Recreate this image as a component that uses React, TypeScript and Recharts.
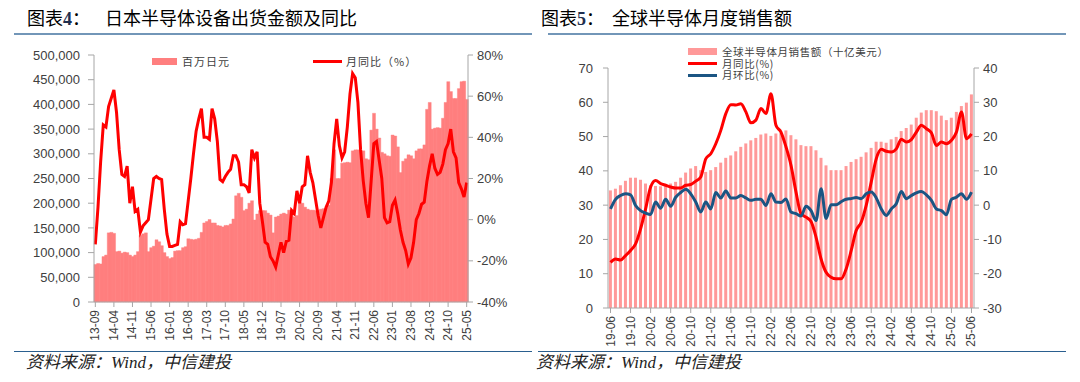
import React from 'react'
import { ComposedChart, Bar, Line, XAxis, YAxis } from 'recharts'

// month labels like 13-09
function monthLabels(startYear: number, startMonth: number, n: number): string[] {
  const out: string[] = []
  for (let i = 0; i < n; i++) {
    const t = startMonth - 1 + i
    const yy = startYear + Math.floor(t / 12)
    const mm = (t % 12) + 1
    out.push(`${String(yy).padStart(2, '0')}-${String(mm).padStart(2, '0')}`)
  }
  return out
}

// 图表4: 13-09 .. 25-05
const JP_MONTHS = monthLabels(13, 9, 141)

// 百万日元
const JP_SHIPMENTS = [
  76000, 78000, 77000, 92000, 95000, 140000, 141000, 139000, 102000, 103000,
  99000, 101000, 100000, 95000, 92000, 95000, 102000, 135000, 138000, 140000,
  102000, 110000, 113000, 126000, 122000, 114000, 100000, 92000, 88000, 90000,
  103000, 104000, 104000, 110000, 112000, 128000, 127000, 126000, 127000, 129000,
  141000, 160000, 163000, 167000, 160000, 160000, 155000, 154000, 152000, 155000,
  155000, 158000, 168000, 215000, 220000, 212000, 185000, 188000, 200000, 205000,
  166000, 178000, 185000, 185000, 185000, 180000, 176000, 140000, 172000, 174000,
  178000, 180000, 178000, 186000, 186000, 172000, 175000, 202000, 200000, 192000,
  188000, 186000, 186000, 185000, 186000, 188000, 189000, 190000, 196000, 250000,
  308000, 250000, 250000, 281000, 282000, 283000, 282000, 306000, 308000, 308000,
  306000, 306000, 290000, 288000, 348000, 382000, 350000, 332000, 303000, 300000,
  296000, 295000, 338000, 336000, 314000, 262000, 285000, 290000, 298000, 296000,
  290000, 306000, 310000, 310000, 318000, 390000, 404000, 350000, 352000, 353000,
  352000, 372000, 404000, 446000, 426000, 412000, 412000, 432000, 446000, 447000,
  410000,
]

// 月同比 (%)
const JP_YOY = [
  -12, 6, 28, 46, 45, 55, 59, 63, 52, 34,
  22, 21, 26, 8, 16, 4, 5, -6, -3, -1.5,
  0, 10, 20, 21, 20, 19.5, 5, -7, -13, -13,
  -12.5, -12, -1, -2.5, -2, 9, 20, 32, 43, 49,
  54, 40, 40, 39, 54, 49, 38, 19.5, 18.5, 21,
  23, 24.5, 31, 31, 28, 17, 17, 16, 13, 34,
  30, 33, 8, -1, -11, -12, -18, -20, -23, -17,
  -11, -16, -10.5, -10, 4.5, 3, 14, 8, 16, 17,
  31, 23, 18, 10, 2, -4, 1, 6, 9, 18,
  37, 49, 36, 30, 33, 45, 61, 71, 69, 57,
  34, 19, 8, 1, 19, 37, 38, 29, 20, 1,
  -1.5, -1, 7, 9.5, 3, -5, -11, -15, -21.5, -18.5,
  -11, 0, 3, 7.5, 8.5, 18.5, 26, 32, 25, 22,
  23, 27, 34, 37, 44, 33, 30, 18, 15, 11,
  18,
]

const JP_LEFT_TICKS = [0, 50000, 100000, 150000, 200000, 250000, 300000, 350000, 400000, 450000, 500000]
const JP_RIGHT_TICKS = [-40, -20, 0, 20, 40, 60, 80]

// 图表5: 19-06 .. 25-06
const WS_MONTHS = monthLabels(19, 6, 73)

// 全球半导体月销售额（十亿美元）
const WS_SALES = [
  34.3, 34.8, 35.8, 37.1, 38, 38, 37.4, 36.3, 35.8, 35.6,
  35.5, 35.6, 36.3, 36.8, 38, 39.5, 40.7, 41.4, 40.2, 39.7,
  40.2, 41.1, 42.4, 43.8, 44.5, 45.7, 47, 48, 48.9, 49.6,
  50.6, 50.9, 50.2, 50.9, 51, 51.8, 50.4, 49.2, 47.5, 47.2,
  47.2, 46, 43.8, 41.6, 40.2, 40.2, 40.2, 41.4, 42.6, 43.4,
  44.1, 45.4, 46.7, 48.5, 48.5, 48.2, 49.2, 49.9, 51.6, 52.5,
  53.5, 55.5, 57, 57.7, 57.7, 57.4, 56.1, 54.8, 55.5, 57.2,
  58.9, 59.9, 62.3,
]

// 月同比(%)
const WS_YOY = [
  -16.7, -15.7, -16, -14.7, -13.2, -11.3, -6.9, -1.1, 5.3, 7.2,
  6.3, 5.8, 5.3, 5, 5, 5.8, 6, 7, 8.2, 13.5,
  15, 17.9, 21.8, 26.7, 29.3, 29.2, 29.6, 27.2, 24, 24.8,
  28.2, 26.7, 32.5, 23.3, 21.3, 17, 11.6, 3.8, -2.5, -3.5,
  -4.8, -9.4, -15.7, -19.6, -21, -21.5, -21.5, -18.6, -13.3, -7.4,
  -5, -0.1, 6.7, 13.5, 16.3, 15.7, 15.5, 16.4, 19.2, 18.4,
  19.1, 21.3, 23.3, 22.3, 21.1, 17.4, 18.4, 17.9, 18.9, 21.3,
  27.2, 19.4, 20.8,
]

// 月环比(%)
const WS_MOM = [
  -1.1, 1.7, 2.8, 3.3, 3, -0.1, -1.6, -2.3, -2.7, 0.9,
  -0.9, 1.7, -0.3, 2.3, 3.7, 4.6, 3.3, 0.9, -2, 0.9,
  -1.1, 3.7, 2.1, 4.1, 2.1, 2.1, 2.8, 2.1, 1.4, 1.7,
  1.7, -0.1, 3.3, 0.9, 0.8, 1.8, -2, -2.5, -3.2, -0.3,
  -1.6, -4.5, 4.8, -3.9, 0.1, 0.1, 1, 1.7, 1.9, 2.2,
  1.9, 3.3, 3.8, 2.1, -1.1, -3, -1.1, 0.4, 4, 1.9,
  2.8, 3.6, 4, 3, 1.4, -1.1, -1.6, -2.8, 1.7, 2.3,
  3.3, 1.7, 3.8,
]

const WS_LEFT_TICKS = [0, 10, 20, 30, 40, 50, 60, 70]
const WS_RIGHT_TICKS = [-30, -20, -10, 0, 10, 20, 30, 40]

const WS_LEGEND = ['全球半导体月销售额（十亿美元）', '月同比(%)', '月环比(%)']

const AXIS_GREY = '#a6a6a6'
const LABEL = '#404040'
const SANS = '"Liberation Sans", Arial, sans-serif'
const CJK = '"Noto Sans CJK SC", sans-serif'

const jpData = JP_MONTHS.map((m, i) => ({ m, ship: JP_SHIPMENTS[i], yoy: JP_YOY[i] }))
const wsData = WS_MONTHS.map((m, i) => ({ m, sales: WS_SALES[i], yoy: WS_YOY[i], mom: WS_MOM[i] }))

const RotTick = (props: any) => {
  const { x, y, payload } = props
  return (
    <text
      x={x}
      y={y}
      transform={`rotate(-90, ${x}, ${y})`}
      textAnchor="end"
      dominantBaseline="central"
      fontSize={12}
      fill={LABEL}
      fontFamily={SANS}
    >
      {payload.value}
    </text>
  )
}

const tickStyle = { fill: LABEL, fontSize: 13, fontFamily: SANS }

function Title({ left, textLeft, num, text }: { left: number; textLeft: number; num: string; text: string }) {
  const base = { position: 'absolute' as const, top: 5, fontFamily: CJK, fontSize: 18, lineHeight: '24px', color: '#000', whiteSpace: 'nowrap' as const }
  return (
    <>
      <div style={{ ...base, left }}>
        <span>图表</span>
        <span style={{ fontFamily: '"Liberation Serif", serif', fontWeight: 'bold', color: '#1f2f4f' }}>{num}</span>
        <span>：</span>
      </div>
      <div style={{ ...base, left: textLeft }}>{text}</div>
    </>
  )
}

function Source({ left }: { left: number }) {
  return (
    <div style={{ position: 'absolute', left, top: 351, fontFamily: '"Liberation Serif", "Noto Sans CJK SC", serif', fontStyle: 'italic', fontSize: 17, lineHeight: '24px', color: '#222', whiteSpace: 'nowrap' }}>
      资料来源：Wind，中信建投
    </div>
  )
}

const legendText = { position: 'absolute' as const, fontFamily: CJK, fontSize: 11, letterSpacing: 1, color: LABEL, lineHeight: '14px', whiteSpace: 'nowrap' as const }

export default function App() {
  return (
    <div style={{ position: 'absolute', left: 0, top: 0, width: 1080, height: 382, background: '#fff', overflow: 'hidden' }}>
      <Title left={27} textLeft={105} num="4" text="日本半导体设备出货金额及同比" />
      <Title left={541} textLeft={612} num="5" text="全球半导体月度销售额" />
      <div style={{ position: 'absolute', left: 14, top: 33, width: 518, height: 2, background: '#7296b8' }} />
      <div style={{ position: 'absolute', left: 548, top: 33, width: 518, height: 2, background: '#7296b8' }} />

      {/* 图表4 */}
      <div style={{ position: 'absolute', left: 0, top: 0 }}>
        <ComposedChart width={540} height={382} data={jpData} margin={{ top: 55, right: 0, bottom: 35, left: 0 }} barCategoryGap={0} barGap={0}>
          <XAxis
            dataKey="m"
            interval={6}
            height={45}
            tick={<RotTick />}
            tickSize={5}
            tickMargin={3}
            axisLine={{ stroke: AXIS_GREY }}
            tickLine={{ stroke: AXIS_GREY }}
          />
          <YAxis
            yAxisId="l"
            width={94}
            domain={[0, 500000]}
            ticks={JP_LEFT_TICKS}
            tickFormatter={(v: number) => v.toLocaleString('en-US')}
            tick={tickStyle}
            tickSize={6}
            tickMargin={8}
            axisLine={{ stroke: AXIS_GREY }}
            tickLine={{ stroke: AXIS_GREY }}
          />
          <YAxis
            yAxisId="r"
            orientation="right"
            width={72}
            domain={[-40, 80]}
            ticks={JP_RIGHT_TICKS}
            tickFormatter={(v: number) => `${v}%`}
            tick={tickStyle}
            tickSize={5}
            tickMargin={4}
            axisLine={{ stroke: AXIS_GREY }}
            tickLine={{ stroke: AXIS_GREY }}
          />
          <Bar yAxisId="l" dataKey="ship" fill="#ff7f7f" stroke="#ff7f7f" strokeWidth={0.4} isAnimationActive={false} />
          <Line yAxisId="r" dataKey="yoy" type="linear" stroke="#ff0000" strokeWidth={3} dot={false} isAnimationActive={false} />
        </ComposedChart>
      </div>

      {/* 图表5 */}
      <div style={{ position: 'absolute', left: 540, top: 0 }}>
        <ComposedChart width={540} height={382} data={wsData} margin={{ top: 68, right: 0, bottom: 34, left: 0 }} barCategoryGap="18%">
          <XAxis
            dataKey="m"
            interval={3}
            height={40}
            tick={<RotTick />}
            tickSize={5}
            tickMargin={3}
            axisLine={{ stroke: AXIS_GREY }}
            tickLine={{ stroke: AXIS_GREY }}
          />
          <YAxis
            yAxisId="l"
            width={68}
            domain={[0, 70]}
            ticks={WS_LEFT_TICKS}
            tick={tickStyle}
            tickSize={5}
            tickMargin={10}
            axisLine={{ stroke: AXIS_GREY }}
            tickLine={{ stroke: AXIS_GREY }}
          />
          <YAxis
            yAxisId="r"
            orientation="right"
            width={106}
            domain={[-30, 40]}
            ticks={WS_RIGHT_TICKS}
            tick={tickStyle}
            tickSize={5}
            tickMargin={4}
            axisLine={{ stroke: AXIS_GREY }}
            tickLine={{ stroke: AXIS_GREY }}
          />
          <Bar yAxisId="l" dataKey="sales" fill="#ff9999" isAnimationActive={false} />
          <Line yAxisId="r" dataKey="yoy" type="monotone" stroke="#ff0000" strokeWidth={3} dot={false} isAnimationActive={false} />
          <Line yAxisId="r" dataKey="mom" type="monotone" stroke="#1b5583" strokeWidth={3} dot={false} isAnimationActive={false} />
        </ComposedChart>
      </div>

      {/* legends */}
      <div style={{ position: 'absolute', left: 152, top: 58, width: 25, height: 7, background: '#ff7f7f' }} />
      <div style={{ ...legendText, left: 182, top: 54 }}>百万日元</div>
      <div style={{ position: 'absolute', left: 313, top: 60, width: 29, height: 3, background: '#ff0000' }} />
      <div style={{ ...legendText, left: 346, top: 54 }}>月同比（%）</div>

      <div style={{ position: 'absolute', left: 688, top: 48, width: 29, height: 7, background: '#ff9999' }} />
      <div style={{ position: 'absolute', left: 688, top: 62, width: 29, height: 3, background: '#ff0000' }} />
      <div style={{ position: 'absolute', left: 688, top: 74, width: 29, height: 3, background: '#1b5583' }} />
      <div style={{ ...legendText, left: 722, top: 46, fontSize: 10.5, lineHeight: '11.7px', letterSpacing: 0.6, whiteSpace: 'pre' }}>
        {WS_LEGEND.join('\n')}
      </div>

      <div style={{ position: 'absolute', left: 14, top: 351, width: 518, height: 1, background: '#2a5f8f' }} />
      <div style={{ position: 'absolute', left: 538, top: 351, width: 528, height: 1, background: '#2a5f8f' }} />
      <Source left={26} />
      <Source left={536} />
    </div>
  )
}
